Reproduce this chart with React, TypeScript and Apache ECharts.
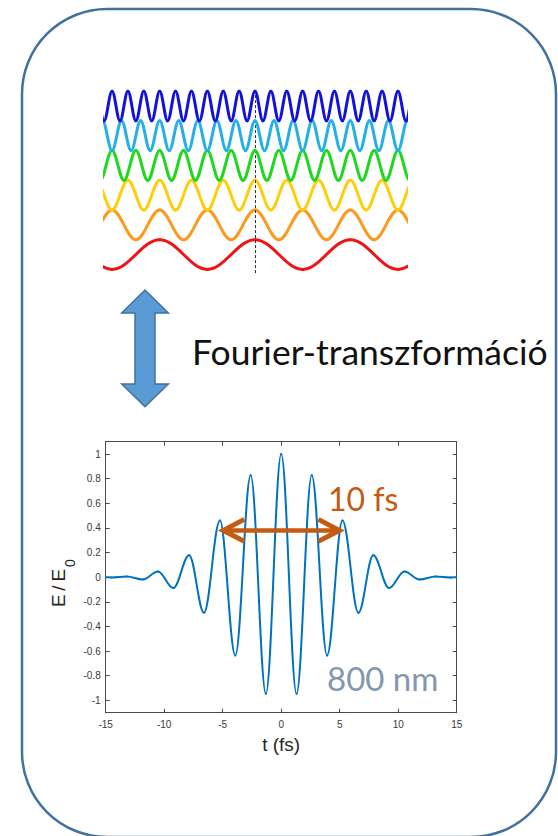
import React, { useEffect, useRef } from "react";
import * as echarts from "echarts";

// ---- Top panel: superposed harmonics (schematic) ----
const WAVE_HARMONICS = [1, 2, 3, 4, 5, 6];
const WAVE_OFFSETS = [0, 2, 4, 6, 8, 10];
const WAVE_COLORS = ["#f01414", "#fb9a1e", "#ffcd0a", "#1ed81e", "#22b0e6", "#1212dc"];
const WAVE_EXTREMA = [1, -1]; // alternating peak / trough (half periods)
const WAVE_FUNDAMENTAL_PERIOD = 24;
const WAVE_X_EXTENT = 38.2;

// ---- Bottom panel: few-cycle pulse, extrema of E/E0 vs t (fs) ----
const PULSE_TIME = [
  -15, -14.5, -13.2, -11.82, -10.53, -9.22, -7.87, -6.6, -5.24, -3.92, -2.61, -1.31, 0,
  1.31, 2.61, 3.92, 5.24, 6.6, 7.87, 9.22, 10.53, 11.82, 13.2, 14.5, 15,
];
const PULSE_FIELD = [
  0, -0.002, 0.006, -0.018, 0.047, -0.088, 0.179, -0.288, 0.461, -0.635, 0.827, -0.946, 1,
  -0.946, 0.827, -0.635, 0.461, -0.288, 0.179, -0.088, 0.047, -0.018, 0.006, -0.002, 0,
];
const Y_TICKS = [-1, -0.8, -0.6, -0.4, -0.2, 0, 0.2, 0.4, 0.6, 0.8, 1];
const PULSE_X_MIN = -15;
const PULSE_X_MAX = 15;
const PULSE_Y_MIN = -1.1;
const PULSE_Y_MAX = 1.1;
// FWHM arrow annotation: [start t, end t, level]
const FWHM_ARROW = [-4.95, 4.97, 0.38];

// cubic Bézier handle ratio for a half-cosine between two extrema
const HALF_COS_K = 0.3634;

function waveSegments(harmonic: number, offset: number) {
  const h = WAVE_FUNDAMENTAL_PERIOD / harmonic / 2;
  const K = Math.ceil(WAVE_X_EXTENT / h) + 1;
  const segs: number[][] = [];
  for (let k = -K; k < K; k++) {
    const a = WAVE_EXTREMA[((k % 2) + 2) % 2];
    const b = WAVE_EXTREMA[(((k + 1) % 2) + 2) % 2];
    segs.push([k * h, offset + a, (k + 1) * h, offset + b]);
  }
  return segs;
}

function pulseSegments() {
  const segs: number[][] = [];
  for (let i = 0; i < PULSE_TIME.length - 1; i++) {
    segs.push([PULSE_TIME[i], PULSE_FIELD[i], PULSE_TIME[i + 1], PULSE_FIELD[i + 1]]);
  }
  return segs;
}

function halfCosRenderer(color: string, width: number) {
  return (params: any, api: any) => {
    const p0 = api.coord([api.value(0), api.value(1)]);
    const p3 = api.coord([api.value(2), api.value(3)]);
    const dx = p3[0] - p0[0];
    return {
      type: "bezierCurve",
      shape: {
        x1: p0[0],
        y1: p0[1],
        x2: p3[0],
        y2: p3[1],
        cpx1: p0[0] + HALF_COS_K * dx,
        cpy1: p0[1],
        cpx2: p3[0] - HALF_COS_K * dx,
        cpy2: p3[1],
      },
      style: { stroke: color, lineWidth: width, fill: "none", lineCap: "round" },
    };
  };
}

const AXIS_COLOR = "#4a4a4a";
const LABEL_COLOR = "#3a3a3a";
const NUM_FONT = "Liberation Sans";
const SLIDE_FONT = "Lato";

export default function App() {
  const ref = useRef<HTMLDivElement>(null);
  useEffect(() => {
    if (!ref.current) return;
    const chart = echarts.init(ref.current, undefined, { renderer: "svg" });

    const waveSeries = WAVE_HARMONICS.map((n, i) => ({
      type: "custom",
      xAxisIndex: 2,
      yAxisIndex: 0,
      data: waveSegments(n, WAVE_OFFSETS[i]),
      encode: { x: [0, 2], y: [1, 3] },
      renderItem: halfCosRenderer(WAVE_COLORS[i], 3),
      clip: true,
      silent: true,
      z: 2 + i,
    }));

    const tickCommon = {
      inside: true,
      length: 4,
      customValues: Y_TICKS,
      lineStyle: { color: AXIS_COLOR, width: 1 },
    };

    const option: any = {
      animation: false,
      backgroundColor: "#ffffff",
      grid: [
        { left: 103.3, top: 88.2, width: 303.4, height: 184.9, containLabel: false, outerBoundsMode: "none" },
        { left: 105.7, top: 441.7, width: 351, height: 271, containLabel: false, outerBoundsMode: "none" },
      ],
      xAxis: [
        {
          type: "value",
          gridIndex: 1,
          position: "bottom",
          min: PULSE_X_MIN,
          max: PULSE_X_MAX,
          interval: 5,
          axisLine: { show: true, onZero: false, lineStyle: { color: AXIS_COLOR, width: 1 } },
          axisTick: { show: true, inside: true, length: 4, lineStyle: { color: AXIS_COLOR, width: 1 } },
          axisLabel: { show: true, fontSize: 10, color: LABEL_COLOR, fontFamily: NUM_FONT, margin: 7, showMinLabel: true, showMaxLabel: true },
          splitLine: { show: false },
          name: "t (fs)",
          nameLocation: "middle",
          nameGap: 22,
          nameTextStyle: { fontSize: 19, color: "#262626", fontFamily: NUM_FONT, verticalAlign: "top" },
        },
        {
          type: "value",
          gridIndex: 1,
          position: "top",
          min: PULSE_X_MIN,
          max: PULSE_X_MAX,
          interval: 5,
          axisLine: { show: true, onZero: false, lineStyle: { color: AXIS_COLOR, width: 1 } },
          axisTick: { show: true, inside: true, length: 4, lineStyle: { color: AXIS_COLOR, width: 1 } },
          axisLabel: { show: false },
          splitLine: { show: false },
        },
        {
          type: "value",
          gridIndex: 0,
          min: -WAVE_X_EXTENT,
          max: WAVE_X_EXTENT,
          show: false,
        },
      ],
      yAxis: [
        { type: "value", gridIndex: 0, min: -1.25, max: 11.2, show: false },
        {
          type: "value",
          gridIndex: 1,
          position: "left",
          min: PULSE_Y_MIN,
          max: PULSE_Y_MAX,
          axisLine: { show: true, onZero: false, lineStyle: { color: AXIS_COLOR, width: 1 } },
          axisTick: { show: true, ...tickCommon },
          axisLabel: { show: true, customValues: Y_TICKS, fontSize: 10, color: LABEL_COLOR, fontFamily: NUM_FONT, margin: 5 },
          splitLine: { show: false },
        },
        {
          type: "value",
          gridIndex: 1,
          position: "right",
          min: PULSE_Y_MIN,
          max: PULSE_Y_MAX,
          axisLine: { show: true, onZero: false, lineStyle: { color: AXIS_COLOR, width: 1 } },
          axisTick: { show: true, ...tickCommon },
          axisLabel: { show: false },
          splitLine: { show: false },
        },
      ],
      series: [
        ...waveSeries,
        {
          // vertical dashed reference line through the common peak
          type: "line",
          xAxisIndex: 2,
          yAxisIndex: 0,
          data: [],
          silent: true,
          markLine: {
            silent: true,
            symbol: "none",
            label: { show: false },
            lineStyle: { color: "#333", width: 1, type: [3, 2] },
            data: [{ xAxis: 0 }],
          },
          z: 20,
        },
        {
          type: "custom",
          xAxisIndex: 0,
          yAxisIndex: 1,
          data: pulseSegments(),
          encode: { x: [0, 2], y: [1, 3] },
          renderItem: halfCosRenderer("#0072bd", 2),
          clip: true,
          silent: true,
          z: 5,
        },
        {
          type: "custom",
          xAxisIndex: 0,
          yAxisIndex: 1,
          silent: true,
          z: 10,
          encode: { x: [0, 1], y: 2 },
          data: [FWHM_ARROW],
          renderItem: (params: any, api: any) => {
            const a = api.coord([api.value(0), api.value(2)]);
            const b = api.coord([api.value(1), api.value(2)]);
            const color = "#c55a11";
            const hl = 21;
            const hw = 11;
            return {
              type: "group",
              children: [
                {
                  type: "line",
                  shape: { x1: a[0] + 2, y1: a[1], x2: b[0] - 2, y2: b[1] },
                  style: { stroke: color, lineWidth: 4.5 },
                },
                {
                  type: "polyline",
                  shape: { points: [[a[0] + hl, a[1] - hw], [a[0], a[1]], [a[0] + hl, a[1] + hw]] },
                  style: { stroke: color, lineWidth: 5, fill: "none", lineJoin: "miter" },
                },
                {
                  type: "polyline",
                  shape: { points: [[b[0] - hl, b[1] - hw], [b[0], b[1]], [b[0] - hl, b[1] + hw]] },
                  style: { stroke: color, lineWidth: 5, fill: "none", lineJoin: "miter" },
                },
              ],
            };
          },
        },
      ],
      graphic: [
        {
          type: "rect",
          shape: { x: 22, y: 9, width: 534, height: 828, r: 85 },
          style: { fill: "none", stroke: "#41719c", lineWidth: 2.5 },
          z: 100,
          silent: true,
        },
        {
          type: "polygon",
          shape: {
            points: [
              [145, 290], [168.3, 313], [155, 313], [155, 384], [168.3, 384],
              [145, 406.7], [121.7, 384], [135, 384], [135, 313], [121.7, 313],
            ],
          },
          style: { fill: "#5b9bd5", stroke: "#41719c", lineWidth: 1.5 },
          silent: true,
        },
        {
          type: "text",
          x: 192,
          y: 351,
          style: { text: "Fourier-transzformáció", fontSize: 35.5, fontFamily: SLIDE_FONT, fill: "#111111", align: "left", verticalAlign: "middle" },
          silent: true,
        },
        {
          type: "text",
          x: 328,
          y: 498,
          z: 50,
          style: { text: "10 fs", fontSize: 32, fontFamily: SLIDE_FONT, fill: "#c55a11", align: "left", verticalAlign: "middle" },
          silent: true,
        },
        {
          type: "text",
          x: 327,
          y: 678,
          z: 50,
          style: { text: "800 nm", fontSize: 33, fontFamily: SLIDE_FONT, fill: "#8497b0", align: "left", verticalAlign: "middle" },
          silent: true,
        },
        {
          type: "text",
          x: 58,
          y: 588,
          rotation: Math.PI / 2,
          style: { text: "E\u2009/\u2009E", fontSize: 19, fontFamily: NUM_FONT, fill: "#262626", align: "center", verticalAlign: "middle" },
          silent: true,
        },
        {
          type: "text",
          x: 70,
          y: 563,
          rotation: Math.PI / 2,
          style: { text: "0", fontSize: 14, fontFamily: NUM_FONT, fill: "#262626", align: "center", verticalAlign: "middle" },
          silent: true,
        },
      ],
    };

    chart.setOption(option);
    return () => chart.dispose();
  }, []);

  return (
    <div
      ref={ref}
      style={{ position: "absolute", left: 0, top: 0, width: 558, height: 836 }}
    />
  );
}
